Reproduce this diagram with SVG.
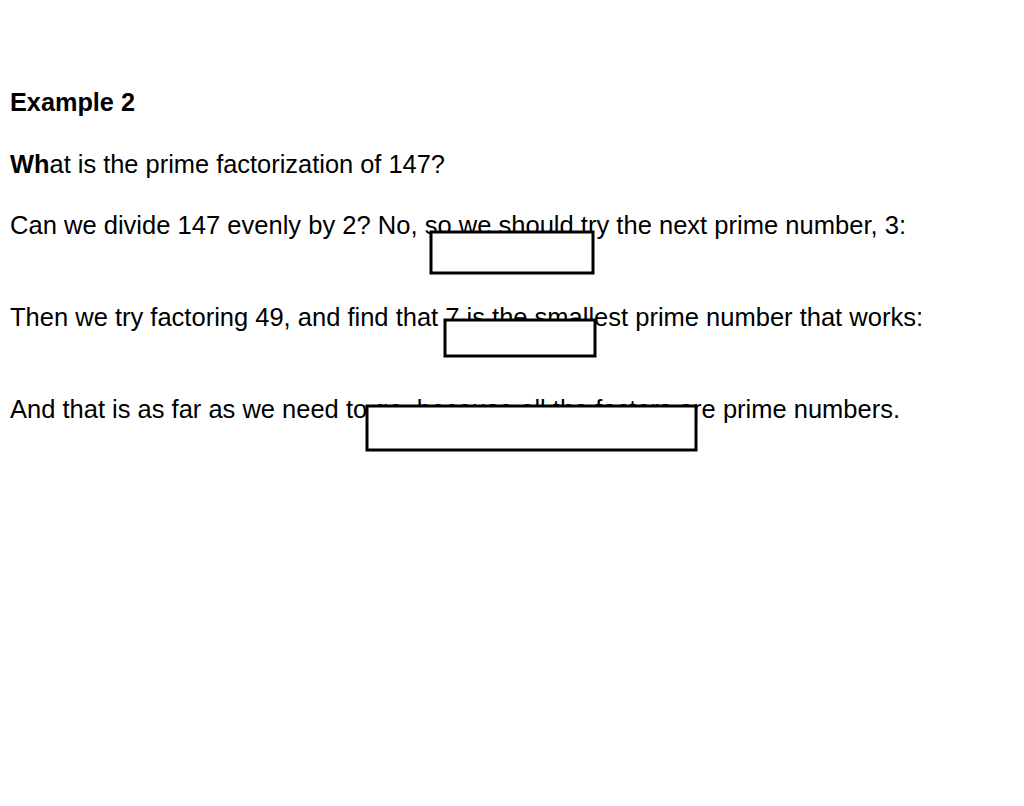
<svg xmlns="http://www.w3.org/2000/svg" width="1024" height="806" viewBox="0 0 1024 806">
<style>
text{font-family:"Liberation Sans",Arial,sans-serif;font-size:25px;fill:#000}
.b{font-weight:bold}
.box{fill:#fff;stroke:#000;stroke-width:3}
</style>
<rect width="1024" height="806" fill="#fff"/>
<g id="text">
<text x="10" y="111" class="b" textLength="125" lengthAdjust="spacingAndGlyphs">Example 2</text>
<text x="10" y="173" textLength="435" lengthAdjust="spacingAndGlyphs"><tspan class="b">Wh</tspan>at is the prime factorization of 147?</text>
<text x="10" y="234" textLength="896" lengthAdjust="spacingAndGlyphs">Can we divide 147 evenly by 2? No, so we should try the next prime number, 3:</text>
<text x="10" y="326" textLength="913" lengthAdjust="spacingAndGlyphs">Then we try factoring 49, and find that 7 is the smallest prime number that works:</text>
<text x="10" y="418" textLength="890" lengthAdjust="spacingAndGlyphs">And that is as far as we need to go, because all the factors are prime numbers.</text>
</g>
<g id="box1"><rect class="box" x="431" y="232" width="162" height="41"/></g>
<g id="box2"><rect class="box" x="445" y="320" width="150" height="36"/></g>
<g id="box3"><rect class="box" x="367" y="406" width="329" height="44"/></g>
</svg>
